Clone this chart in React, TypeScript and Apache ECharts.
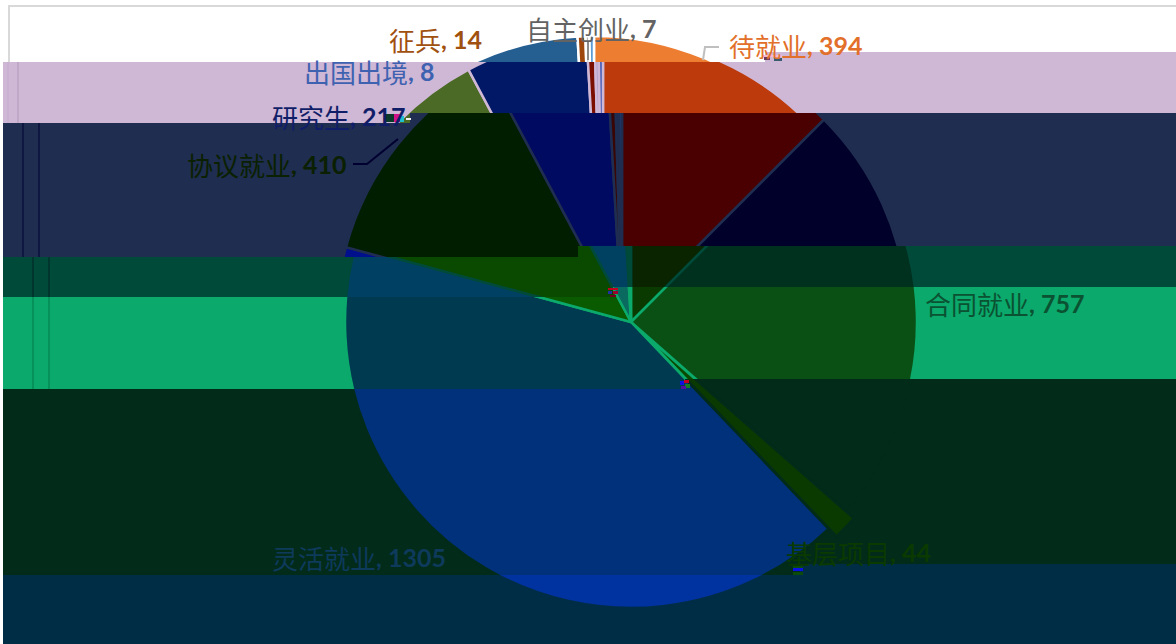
import React, { useEffect, useRef } from "react";
import * as echarts from "echarts";

const categories = ["待就业", "合同就业", "基层项目", "灵活就业", "协议就业", "研究生", "征兵", "自主创业", "出国出境"];
const values = [394, 757, 44, 1305, 410, 217, 14, 7, 8];

// Slice colours as they appear in each horizontal strip of the picture
const whitePalette = ["#ED7D31", "#A5A5A5", "#70AD47", "#4472C4", "#4A6A25", "#255E91", "#9E480E", "#B8B8B8", "#5B9BD5"];
const lilacPalette = ["#BC3A0B", "#6A4A70", "#4A6A25", "#1A3A90", "#4A6A25", "#001866", "#7A0F00", "#B0A0C8", "#3F58B5"];
const navyPalette = ["#4A0000", "#00002A", "#002000", "#00108C", "#021E00", "#000A60", "#3A0505", "#203060", "#1A3A70"];
const tealDarkPalette = ["#0A2400", "#00301E", "#0A4A00", "#004062", "#0A4A00", "#004060", "#0A3020", "#0A6A50", "#0A6A60"];
const greenPalette = ["#0A3A00", "#0A5014", "#0A4A00", "#003A50", "#0A5A00", "#0A6A60", "#0A5A30", "#0A8060", "#0A7060"];
const darkPalette = ["#0A1A00", "#022B1A", "#0A3A00", "#00317A", "#0A3A00", "#003060", "#022B1A", "#022B1A", "#022B1A"];
const deepPalette = ["#002D46", "#002D46", "#003A46", "#0032A0", "#002D46", "#002D46", "#002D46", "#002D46", "#002D46"];

type Strip = {
  bg: string;
  palette: string[];
  cx: number;
  clip: number[][];
  rules: { x: number; color: string }[];
};

const stepped = (tl: number, tx: number, tr: number, bl: number, bx: number, br: number) => [
  [3, tl], [tx, tl], [tx, tr], [1176, tr], [1176, br], [bx, br], [bx, bl], [3, bl],
];

const strips: Strip[] = [
  { bg: "#FFFFFF", palette: whitePalette, cx: 594, clip: [[0, 0], [1176, 0], [1176, 52], [765, 52], [765, 62], [0, 62]], rules: [] },
  { bg: "#CFB7D6", palette: lilacPalette, cx: 603, clip: stepped(62, 765, 52, 123, 410, 113), rules: [{ x: 8, color: "#C8AFD0" }, { x: 18, color: "#BBA3C4" }] },
  { bg: "#1F2D50", palette: navyPalette, cx: 622, clip: stepped(123, 410, 113, 257, 578, 246), rules: [{ x: 23, color: "#08103C" }, { x: 39, color: "#08103C" }] },
  { bg: "#004A3A", palette: tealDarkPalette, cx: 631, clip: stepped(257, 578, 246, 297, 613, 287), rules: [{ x: 33, color: "#00302A" }, { x: 49, color: "#00302A" }] },
  { bg: "#0BA96B", palette: greenPalette, cx: 631, clip: stepped(297, 613, 287, 389, 685, 379), rules: [{ x: 33, color: "#078A54" }, { x: 49, color: "#078A54" }] },
  { bg: "#022B1A", palette: darkPalette, cx: 631, clip: stepped(389, 685, 379, 575, 800, 564), rules: [] },
  { bg: "#002D46", palette: deepPalette, cx: 631, clip: stepped(575, 800, 564, 644, 800, 644), rules: [] },
];

const labelAnchors = [
  [729, 45], [925, 303], [786, 552], [272, 557], [187, 164], [272, 116], [389, 39], [526, 28], [304, 71],
];
const labelColors = ["#E2702A", "#0A5232", "#0A3A00", "#0E3A5C", "#0A2000", "#101E68", "#A0500F", "#636363", "#3F62B0"];

const leaders = [
  { points: [[719, 47], [705, 47], [703, 60]], color: "#BFBFBF" },
  { points: [[353, 164], [367, 164], [398, 139]], color: "#000030" },
  { points: [[588, 42], [588, 60]], color: "#8C8C8C" },
];

const specks = [
  [762, 55, 20, 2, "#F7B8D0"], [764, 57, 6, 3, "#6A3A60"], [774, 58, 8, 3, "#3A5A70"],
  [384, 114, 10, 8, "#0A3A2A"], [394, 114, 6, 8, "#D0108A"], [400, 116, 4, 6, "#20C0D0"], [406, 118, 5, 2, "#F0F0F0"],
  [608, 288, 10, 2, "#C00020"], [608, 291, 4, 3, "#2030A0"], [613, 291, 5, 3, "#A00030"], [610, 295, 6, 2, "#700020"],
  [680, 381, 4, 4, "#1010E0"], [684, 380, 5, 3, "#C00020"], [685, 384, 5, 4, "#108020"], [681, 386, 5, 3, "#5010A0"],
  [793, 566, 10, 4, "#0A4A0A"], [793, 568, 10, 3, "#0A10E0"], [793, 572, 10, 3, "#0A4A0A"],
];

const sliceData = () =>
  categories.map((name, i) => ({ name, value: values[i], selected: name === "基层项目" }));

function stripOption(s: Strip) {
  return {
    animation: false,
    backgroundColor: s.bg,
    color: s.palette,
    graphic: s.rules.map((r) => ({
      type: "line",
      shape: { x1: r.x, y1: 0, x2: r.x, y2: 644 },
      style: { stroke: r.color, lineWidth: 1.5 },
    })).concat(
      s.bg === "#FFFFFF"
        ? ([
            { type: "line", shape: { x1: 8, y1: 6, x2: 1176, y2: 6 }, style: { stroke: "#D9D9D9", lineWidth: 2 } },
            { type: "line", shape: { x1: 9, y1: 6, x2: 9, y2: 62 }, style: { stroke: "#D9D9D9", lineWidth: 2 } },
          ] as any)
        : []
    ),
    series: [
      {
        type: "pie",
        silent: true,
        center: [s.cx, 322],
        radius: [0, 286],
        startAngle: 90,
        clockwise: true,
        selectedMode: "multiple",
        selectedOffset: 11,
        label: { show: false },
        labelLine: { show: false },
        itemStyle: { borderColor: s.bg, borderWidth: 2.5 },
        data: sliceData(),
      },
    ],
  };
}

function labelOption() {
  return {
    animation: false,
    graphic: [
      ...leaders.map((l) => ({
        type: "polyline",
        shape: { points: l.points },
        style: { stroke: l.color, lineWidth: 2, fill: "none" },
      })),
      ...specks.map(([x, y, w, h, fill]) => ({
        type: "rect",
        shape: { x, y, width: w, height: h },
        style: { fill },
      })),
    ],
    series: [
      {
        type: "pie",
        silent: true,
        center: [631, 322],
        radius: [0, 286],
        startAngle: 90,
        itemStyle: { color: "rgba(0,0,0,0)" },
        labelLine: { show: false },
        label: {
          show: true,
          position: "outside",
          formatter: (p: any) => `{n|${p.name}}{b|, ${p.value}}`,
          rich: {
            n: { fontFamily: "Noto Sans CJK SC", fontSize: 26, fontWeight: 400 },
            b: { fontFamily: "Lato", fontSize: 25, fontWeight: "bold" },
          },
        },
        labelLayout: (p: any) => ({
          x: labelAnchors[p.dataIndex][0],
          y: labelAnchors[p.dataIndex][1],
          align: "left",
          verticalAlign: "middle",
        }),
        data: categories.map((name, i) => ({
          name,
          value: values[i],
          label: {
            rich: {
              n: { color: labelColors[i] },
              b: { color: labelColors[i] },
            },
          },
        })),
      },
    ],
  };
}

const Layer = ({ clip, option }: { clip?: number[][]; option: any }) => {
  const ref = useRef<HTMLDivElement>(null);
  useEffect(() => {
    const chart = echarts.init(ref.current!, null, { renderer: "svg", width: 1176, height: 644 });
    chart.setOption(option);
    return () => chart.dispose();
  }, []);
  return (
    <div
      ref={ref}
      style={{
        position: "absolute",
        left: 0,
        top: 0,
        width: 1176,
        height: 644,
        clipPath: clip ? `polygon(${clip.map(([x, y]) => `${x}px ${y}px`).join(",")})` : undefined,
      }}
    />
  );
};

export default function App() {
  useEffect(() => {
    document.body.style.margin = "0";
    document.documentElement.style.overflow = "hidden";
  }, []);
  return (
    <div style={{ position: "relative", width: 1176, height: 644, overflow: "hidden", background: "#fff" }}>
      {strips.map((s, i) => (
        <Layer key={i} clip={s.clip} option={stripOption(s)} />
      ))}
      <Layer option={labelOption()} />
    </div>
  );
}
